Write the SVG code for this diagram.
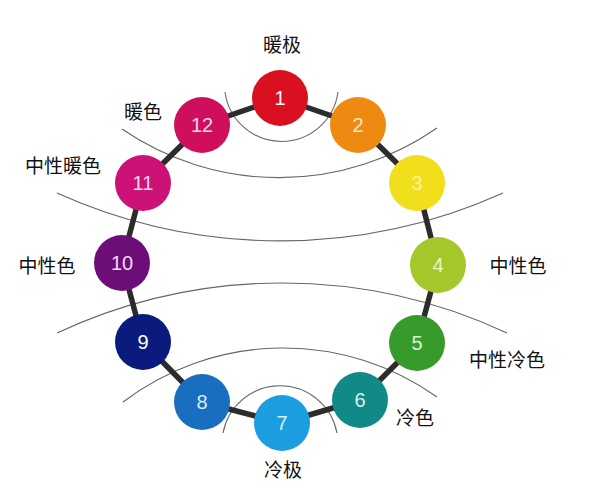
<svg xmlns="http://www.w3.org/2000/svg" width="593" height="496" viewBox="0 0 593 496">
<style>
.arc{fill:none;stroke:#666;stroke-width:1.1}
.ring{fill:none;stroke:#2c2c2c;stroke-width:5.5;stroke-linejoin:round}
.num{font-family:"Liberation Sans",Arial,sans-serif;font-size:20px;fill:#fff;text-anchor:middle;dominant-baseline:central}
.lbl{font-family:"Noto Sans CJK SC","Noto Sans",sans-serif;font-size:19px;fill:#111;text-anchor:middle;dominant-baseline:central}
</style>
<rect width="593" height="496" fill="#fff"/>
<g id="arcs">
<path class="arc" d="M122,129 A277,277 0 0 0 437,128"/>
<path class="arc" d="M57,193 A543,543 0 0 0 503,193"/>
<path class="arc" d="M57,333 A531,531 0 0 1 507,333"/>
<path class="arc" d="M123,402 A265,265 0 0 1 437,397"/>
<path class="arc" d="M225,92 A57,57 0 0 0 338,92"/>
<path class="arc" d="M223,433 A58,58 0 0 1 337,433"/>
</g>
<g id="connectors">
<polygon class="ring" points="280,98 358,125 417,183 438,265 417,343 360,400 282,423 202,402 143,342 122,263 143,183 202,125"/>
</g>
<g id="n1"><circle cx="280" cy="98" r="28" fill="#d9101f"/><text class="num" x="280" y="98">1</text></g>
<g id="n2"><circle cx="358" cy="125" r="28" fill="#ee8912"/><text class="num" x="358" y="125" style="fill:#fbe9c8">2</text></g>
<g id="n3"><circle cx="417" cy="183" r="28" fill="#f2df1c"/><text class="num" x="417" y="183" style="fill:#f8f0a0">3</text></g>
<g id="n4"><circle cx="438" cy="265" r="28" fill="#a4c82a"/><text class="num" x="438" y="265" style="fill:#eef5c8">4</text></g>
<g id="n5"><circle cx="417" cy="343" r="28" fill="#379b2b"/><text class="num" x="417" y="343" style="fill:#dff0d8">5</text></g>
<g id="n6"><circle cx="360" cy="400" r="28" fill="#118a87"/><text class="num" x="360" y="400" style="fill:#d6f0ee">6</text></g>
<g id="n7"><circle cx="282" cy="423" r="28" fill="#1b9de0"/><text class="num" x="282" y="423" style="fill:#d8f0fb">7</text></g>
<g id="n8"><circle cx="202" cy="402" r="28" fill="#1a6ec0"/><text class="num" x="202" y="402" style="fill:#d8ecfa">8</text></g>
<g id="n9"><circle cx="143" cy="342" r="28" fill="#0b1a7d"/><text class="num" x="143" y="342">9</text></g>
<g id="n10"><circle cx="122" cy="263" r="28" fill="#6d0e78"/><text class="num" x="122" y="263" style="fill:#f2dcf2">10</text></g>
<g id="n11"><circle cx="143" cy="183" r="28" fill="#cc1277"/><text class="num" x="143" y="183" style="fill:#f8d8ea">11</text></g>
<g id="n12"><circle cx="202" cy="125" r="28" fill="#cf0f5e"/><text class="num" x="202" y="125" style="fill:#f8d8e6">12</text></g>
<g id="labels">
<text class="lbl" x="282" y="43">暖极</text>
<text class="lbl" x="143" y="110">暖色</text>
<text class="lbl" x="63" y="164">中性暖色</text>
<text class="lbl" x="47" y="264">中性色</text>
<text class="lbl" x="518" y="264">中性色</text>
<text class="lbl" x="507" y="358">中性冷色</text>
<text class="lbl" x="415" y="416">冷色</text>
<text class="lbl" x="283" y="468">冷极</text>
</g>
</svg>
